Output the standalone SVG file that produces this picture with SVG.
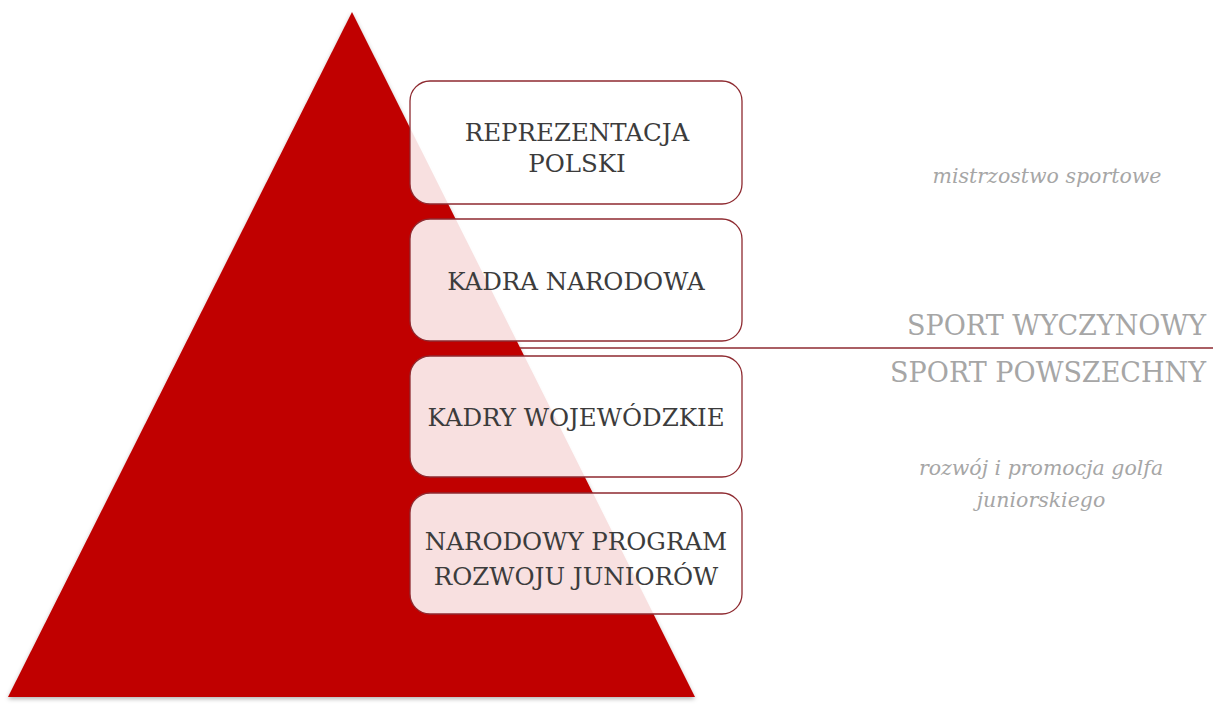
<svg xmlns="http://www.w3.org/2000/svg" width="1213" height="705" viewBox="0 0 1213 705">
<defs>
<filter id="sh" x="-5%" y="-5%" width="110%" height="110%"><feDropShadow dx="0" dy="2" stdDeviation="2" flood-color="#000" flood-opacity="0.3"/></filter>
</defs>
<style>
.box{fill:#ffffff;fill-opacity:0.88;stroke:#8e2a30;stroke-width:1.3}
.bt{font-family:"DejaVu Serif","Liberation Serif",serif;font-size:24.5px;fill:#3c3c3c;text-anchor:middle}
.cap{font-family:"DejaVu Serif","Liberation Serif",serif;font-size:27px;fill:#a6a6a6;text-anchor:end}
.it{font-family:"DejaVu Serif","Liberation Serif",serif;font-style:italic;font-size:20.5px;fill:#a6a6a6;text-anchor:middle}
</style>
<rect width="1213" height="705" fill="#ffffff"/>
<g id="connectors">
<line x1="520" y1="348" x2="1213" y2="348" stroke="#8e2a30" stroke-width="1.3"/>
</g>
<g id="pyramid">
<polygon points="352,12 8,697 695,697" fill="#c00000" filter="url(#sh)"/>
</g>
<g id="box1">
<rect class="box" x="410" y="81" width="332" height="123" rx="20"/>
<text class="bt" x="577" y="141">REPREZENTACJA</text>
<text class="bt" x="577" y="172">POLSKI</text>
</g>
<g id="box2">
<rect class="box" x="410" y="219" width="332" height="122" rx="20"/>
<text class="bt" x="576" y="290">KADRA NARODOWA</text>
</g>
<g id="box3">
<rect class="box" x="410" y="356" width="332" height="121" rx="20"/>
<text class="bt" x="576" y="426">KADRY WOJEWÓDZKIE</text>
</g>
<g id="box4">
<rect class="box" x="410" y="493" width="332" height="121" rx="20"/>
<text class="bt" x="576" y="550">NARODOWY PROGRAM</text>
<text class="bt" x="576" y="585">ROZWOJU JUNIORÓW</text>
</g>
<g id="labels">
<text class="it" x="1047" y="183">mistrzostwo sportowe</text>
<text class="cap" x="1206" y="335">SPORT WYCZYNOWY</text>
<text class="cap" x="1206" y="382">SPORT POWSZECHNY</text>
<text class="it" x="1041" y="475">rozwój i promocja golfa</text>
<text class="it" x="1041" y="507">juniorskiego</text>
</g>
</svg>
